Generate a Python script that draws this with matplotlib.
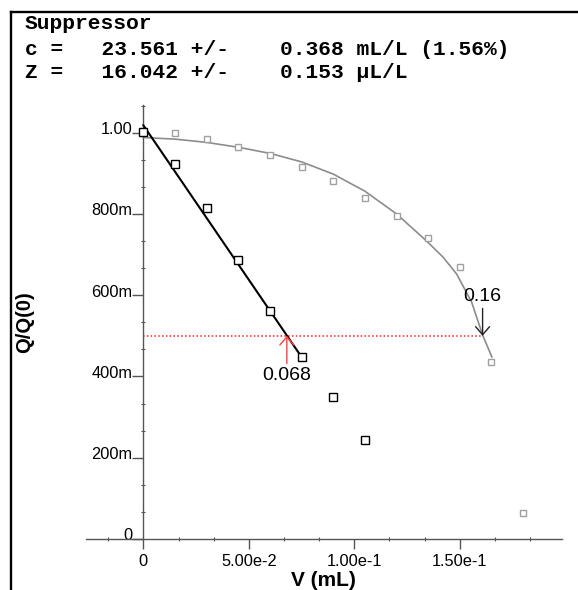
import matplotlib
matplotlib.use("Agg")
import matplotlib.pyplot as plt
from matplotlib.transforms import ScaledTranslation
from matplotlib.lines import Line2D

# ---- data ----
black_x = [0.0, 0.015, 0.03, 0.045, 0.06, 0.075, 0.09, 0.105]
black_y = [1.002, 0.9225, 0.814, 0.686, 0.561, 0.448, 0.350, 0.243]
gray_x = [0.0, 0.015, 0.03, 0.045, 0.06, 0.075, 0.09, 0.105, 0.12, 0.135, 0.15, 0.165, 0.18]
gray_y = [1.0, 0.998, 0.984, 0.964, 0.946, 0.916, 0.881, 0.839, 0.794, 0.740, 0.670, 0.436, 0.063]

black_fit_x = [0.0, 0.0743]
black_fit_y = [1.018, 0.453]
gray_fit_x = [0.0, 0.015, 0.03, 0.045, 0.06, 0.075, 0.09, 0.105, 0.12, 0.1343, 0.142, 0.1485, 0.1556, 0.1608, 0.1652]
gray_fit_y = [0.988, 0.984, 0.976, 0.964, 0.949, 0.928, 0.898, 0.856, 0.800, 0.733, 0.694, 0.652, 0.583, 0.502, 0.448]

level = 0.5
cross_black = 0.068
cross_gray = 0.1608
label_black = "0.068"
label_gray = "0.16"

xticks = [0.0, 0.05, 0.10, 0.15]
xticklabels = ["0", "5.00e-2", "1.00e-1", "1.50e-1"]
yticks = [0.0, 0.2, 0.4, 0.6, 0.8, 1.0]
yticklabels = ["0", "200m", "400m", "600m", "800m", "1.00"]

header = ["Suppressor",
          "c =   23.561 +/-    0.368 mL/L (1.56%)",
          "Z =   16.042 +/-    0.153 µL/L"]

# ---- figure ----
W, H = 578, 590
fig = plt.figure(figsize=(W / 100, H / 100), dpi=100)
fig.patch.set_facecolor("white")

ax = fig.add_axes([86 / W, 1 - 539 / H, (561.7 - 86) / W, (539 - 105) / H])
ax.set_xlim(-0.0272, 0.1983)
ax.set_ylim(0, 1.068)

spine_col = "#555555"
for s in ["top", "right"]:
    ax.spines[s].set_visible(False)
ax.spines["left"].set_position(("data", 0))
ax.spines["bottom"].set_position(("data", 0))
for s in ["left", "bottom"]:
    ax.spines[s].set_color(spine_col)
    ax.spines[s].set_linewidth(1.0)

sans = "Liberation Sans"
ax.set_xticks(xticks)
ax.set_xticklabels(xticklabels, fontsize=11.8, family=sans)
ax.set_yticks(yticks)
ax.set_yticklabels(yticklabels, fontsize=11.8, family=sans)
ax.set_xticks([-0.05 / 3, 0.05 / 3, 0.1 / 3, 0.2 / 3, 0.25 / 3, 0.35 / 3, 0.4 / 3, 0.5 / 3, 0.55 / 3], minor=True)
ax.set_yticks([0.2 / 3, 0.4 / 3, 0.8 / 3, 1.0 / 3, 1.4 / 3, 1.6 / 3, 2.0 / 3, 2.2 / 3, 2.6 / 3, 2.8 / 3, 3.2 / 3], minor=True)
ax.tick_params(axis="x", which="major", direction="out", length=7.2, width=1.0, color=spine_col, pad=3.6)
ax.tick_params(axis="y", which="major", direction="out", length=7.9, width=1.0, color=spine_col, pad=0)
ax.tick_params(axis="both", which="minor", direction="inout", length=2.5, width=0.8, color=spine_col)
for lbl in ax.get_yticklabels():
    lbl.set_transform(lbl.get_transform() + ScaledTranslation(0, 0.045, fig.dpi_scale_trans))

# fits
ax.plot(gray_fit_x, gray_fit_y, color="#8c8c8c", lw=1.2, zorder=2, solid_joinstyle="round")
ax.plot(black_fit_x, black_fit_y, color="black", lw=1.5, zorder=3)
# data points
ax.plot(gray_x, gray_y, ls="none", marker="s", ms=5.0, mfc="white", mec="#a0a0a0", mew=1.0, zorder=4)
ax.plot(black_x, black_y, ls="none", marker="s", ms=5.2, mfc="white", mec="black", mew=1.0, zorder=5)

# level line
ax.plot([0, cross_gray], [level, level], color="#ff2020", lw=1.1, ls=(0, (1, 1.5)), zorder=1)

# arrows
ax.annotate("", xy=(cross_black, level), xytext=(cross_black, 0.432),
            arrowprops=dict(arrowstyle="->,head_length=0.58,head_width=0.5", color="#ff4040",
                            lw=1.0, shrinkA=0, shrinkB=0, mutation_scale=10), zorder=6)
ax.annotate("", xy=(cross_gray, level), xytext=(cross_gray, 0.5675),
            arrowprops=dict(arrowstyle="->,head_length=0.58,head_width=0.5", color="#222222",
                            lw=1.0, shrinkA=0, shrinkB=0, mutation_scale=10), zorder=6)
ax.text(cross_black, 0.403, label_black, ha="center", va="center", fontsize=14, family=sans, zorder=7)
ax.text(cross_gray, 0.596, label_gray, ha="center", va="center", fontsize=14, family=sans, zorder=7)

# axis labels
fig.text(323.5 / W, 1 - 585.5 / H, "V (mL)", ha="center", va="baseline", fontsize=15,
         fontweight="bold", family=sans)
fig.text(24.7 / W, 1 - 322.5 / H, "Q/Q(0)", ha="center", va="center", rotation=90, fontsize=14.5,
         fontweight="bold", family=sans)

# header text
baselines = [28.7, 55.0, 77.7]
for t, b in zip(header, baselines):
    fig.text(25 / W, 1 - b / H, t, ha="left", va="baseline", fontsize=15.3,
             fontweight="bold", family="Liberation Mono")

# frame
yt = 1 - 12.3 / H
xl = 11 / W
fig.add_artist(Line2D([xl, xl], [0, yt], transform=fig.transFigure, color="black", lw=1.7))
fig.add_artist(Line2D([xl, 1.0], [yt, yt], transform=fig.transFigure, color="black", lw=1.7))

fig.savefig("out.png", dpi=100, facecolor="white")
